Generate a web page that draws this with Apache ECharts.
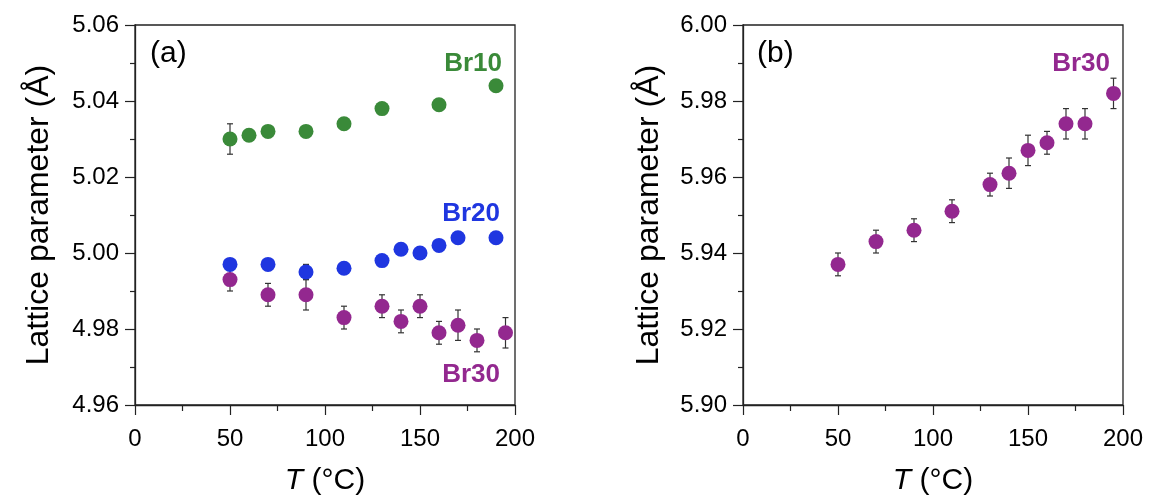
<!DOCTYPE html>
<html>
<head>
<meta charset="utf-8">
<script src="https://cdn.jsdelivr.net/npm/echarts@6/dist/echarts.min.js"></script>
<style>
html,body{margin:0;padding:0;background:#fff;}
#c{width:1150px;height:502px;}
</style>
</head>
<body>
<div id="c"></div>
<script>
// ---- Data ----
const xTicks = [0, 50, 100, 150, 200];
const yTicksA = [4.96, 4.98, 5.00, 5.02, 5.04, 5.06];
const yTicksB = [5.90, 5.92, 5.94, 5.96, 5.98, 6.00];

const T_Br10 = [50, 60, 70, 90, 110, 130, 160, 190];
const a_Br10 = [5.030, 5.031, 5.032, 5.032, 5.034, 5.038, 5.039, 5.044];
const e_Br10 = [0.004, 0.0015, 0.0015, 0.0015, 0.0015, 0.0015, 0.0015, 0.0015];

const T_Br20 = [50, 70, 90, 110, 130, 140, 150, 160, 170, 190];
const a_Br20 = [4.997, 4.997, 4.995, 4.996, 4.998, 5.001, 5.000, 5.002, 5.004, 5.004];
const e_Br20 = [0.0015, 0.0015, 0.002, 0.0015, 0.0015, 0.0015, 0.0015, 0.0015, 0.0015, 0.0015];

const T_Br30a = [50, 70, 90, 110, 130, 140, 150, 160, 170, 180, 195];
const a_Br30a = [4.993, 4.989, 4.989, 4.983, 4.986, 4.982, 4.986, 4.979, 4.981, 4.977, 4.979];
const e_Br30a = [0.003, 0.003, 0.004, 0.003, 0.003, 0.003, 0.003, 0.003, 0.004, 0.003, 0.004];

const T_Br30b = [50, 70, 90, 110, 130, 140, 150, 160, 170, 180, 195];
const a_Br30b = [5.937, 5.943, 5.946, 5.951, 5.958, 5.961, 5.967, 5.969, 5.974, 5.974, 5.982];
const e_Br30b = [0.003, 0.003, 0.003, 0.003, 0.003, 0.004, 0.004, 0.003, 0.004, 0.004, 0.004];

const GREEN = '#3a8a39', BLUE = '#1f36e0', PURPLE = '#93288f';
const FONT = '"Liberation Sans", Arial, sans-serif';

function zip3(t, a, e) { return t.map((v, i) => [v, a[i], e[i]]); }

function errRender(params, api) {
  const x = api.value(0), y = api.value(1), e = api.value(2);
  const top = api.coord([x, y + e]);
  const bot = api.coord([x, y - e]);
  const w = 3;
  const style = { stroke: '#333', lineWidth: 1.2 };
  return {
    type: 'group',
    children: [
      { type: 'line', shape: { x1: top[0], y1: top[1], x2: bot[0], y2: bot[1] }, style },
      { type: 'line', shape: { x1: top[0] - w, y1: top[1], x2: top[0] + w, y2: top[1] }, style },
      { type: 'line', shape: { x1: bot[0] - w, y1: bot[1], x2: bot[0] + w, y2: bot[1] }, style }
    ]
  };
}

function xAxisDef(idx) {
  return {
    type: 'value', gridIndex: idx, min: xTicks[0], max: xTicks[xTicks.length - 1], interval: 50,
    name: '{i|T} (°C)', nameLocation: 'middle', nameGap: 61,
    nameTextStyle: { fontFamily: FONT, fontSize: 30, color: '#000',
      rich: { i: { fontFamily: FONT, fontSize: 30, fontStyle: 'italic', color: '#000' } } },
    axisLine: { show: true, onZero: false, lineStyle: { color: '#222', width: 1.3 } },
    axisTick: { show: true, inside: false, length: 10, lineStyle: { color: '#222', width: 1.2 } },
    minorTick: { show: true, splitNumber: 2, length: 6, lineStyle: { color: '#222', width: 1.2 } },
    splitLine: { show: false },
    axisLabel: { fontFamily: FONT, fontSize: 24, color: '#000', margin: 22 }
  };
}
function yAxisDef(idx, ticks, gap) {
  return {
    type: 'value', gridIndex: idx, min: ticks[0], max: ticks[ticks.length - 1], interval: 0.02,
    name: 'Lattice parameter (Å)', nameLocation: 'middle', nameGap: gap,
    nameTextStyle: { fontFamily: FONT, fontSize: 32, color: '#000' },
    axisLine: { show: true, onZero: false, lineStyle: { color: '#222', width: 1.3 } },
    axisTick: { show: true, inside: false, length: 10, lineStyle: { color: '#222', width: 1.2 } },
    minorTick: { show: true, splitNumber: 2, length: 5, lineStyle: { color: '#222', width: 1.2 } },
    splitLine: { show: false },
    axisLabel: { fontFamily: FONT, fontSize: 24, color: '#000', margin: 16,
      formatter: v => v.toFixed(2) }
  };
}

function errSeries(x, y, data) {
  return { type: 'custom', xAxisIndex: x, yAxisIndex: y, renderItem: errRender, data, z: 2, silent: true };
}
function scatSeries(x, y, t, a, color) {
  return { type: 'scatter', xAxisIndex: x, yAxisIndex: y, symbolSize: 15,
    itemStyle: { color, opacity: 1 }, data: t.map((v, i) => [v, a[i]]), z: 3, silent: true };
}

const chart = echarts.init(document.getElementById('c'), null, { renderer: 'canvas' });
chart.setOption({
  animation: false,
  backgroundColor: '#fff',
  grid: [
    { left: 135, right: 635, top: 25, bottom: 97, show: true, borderColor: '#222', borderWidth: 1.3, backgroundColor: 'transparent' },
    { left: 743, right: 27, top: 25, bottom: 97, show: true, borderColor: '#222', borderWidth: 1.3, backgroundColor: 'transparent' }
  ],
  xAxis: [xAxisDef(0), xAxisDef(1)],
  yAxis: [yAxisDef(0, yTicksA, 80), yAxisDef(1, yTicksB, 78)],
  series: [
    errSeries(0, 0, zip3(T_Br10, a_Br10, e_Br10)),
    errSeries(0, 0, zip3(T_Br20, a_Br20, e_Br20)),
    errSeries(0, 0, zip3(T_Br30a, a_Br30a, e_Br30a)),
    errSeries(1, 1, zip3(T_Br30b, a_Br30b, e_Br30b)),
    scatSeries(0, 0, T_Br10, a_Br10, GREEN),
    scatSeries(0, 0, T_Br20, a_Br20, BLUE),
    scatSeries(0, 0, T_Br30a, a_Br30a, PURPLE),
    scatSeries(1, 1, T_Br30b, a_Br30b, PURPLE)
  ],
  graphic: [
    { type: 'text', left: 150, top: 39, style: { text: '(a)', fontFamily: FONT, fontSize: 30, fill: '#000' } },
    { type: 'text', left: 757, top: 39, style: { text: '(b)', fontFamily: FONT, fontSize: 30, fill: '#000' } },
    { type: 'text', right: 648, top: 51, style: { text: 'Br10', fontFamily: FONT, fontSize: 26, fontWeight: 'bold', fill: GREEN } },
    { type: 'text', right: 650, top: 201, style: { text: 'Br20', fontFamily: FONT, fontSize: 26, fontWeight: 'bold', fill: BLUE } },
    { type: 'text', right: 650, top: 362, style: { text: 'Br30', fontFamily: FONT, fontSize: 26, fontWeight: 'bold', fill: PURPLE } },
    { type: 'text', right: 40, top: 51, style: { text: 'Br30', fontFamily: FONT, fontSize: 26, fontWeight: 'bold', fill: PURPLE } }
  ]
});
</script>
</body>
</html>
